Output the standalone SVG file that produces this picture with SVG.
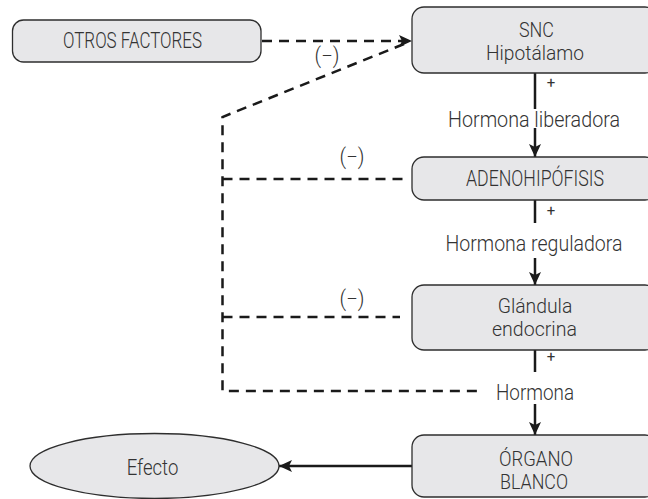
<svg xmlns="http://www.w3.org/2000/svg" width="648" height="499" viewBox="0 0 648 499">
  <defs>
    <style>
      .box { fill: #e7e7e9; stroke: #2e2e2e; stroke-width: 1.3; }
      .lbl { font-family: Roboto, "Liberation Sans", Arial, sans-serif; font-weight: 300; font-size: 21.5px; fill: #333333; text-anchor: middle; }
      .two { font-size: 19.5px; }
      .sign { font-family: Roboto, "Liberation Sans", Arial, sans-serif; font-weight: 400; font-size: 15px; fill: #333333; text-anchor: middle; }
      .neg { font-family: Roboto, "Liberation Sans", Arial, sans-serif; font-weight: 300; font-size: 21.5px; fill: #333333; text-anchor: middle; }
      .solid { fill: none; stroke: #1a1a1a; stroke-width: 2.5; }
      .dash { fill: none; stroke: #1a1a1a; stroke-width: 2.5; stroke-dasharray: 10 7; }
    </style>
    <marker id="head" markerUnits="userSpaceOnUse" markerWidth="14" markerHeight="12" refX="13" refY="6" orient="auto">
      <path d="M0,0 L13,6 L0,12 L3,6 Z" fill="#1a1a1a"/>
    </marker>
  </defs>
  <rect width="648" height="499" fill="#ffffff"/>

  <!-- connectors -->
  <g id="connectors">
    <!-- main cascade -->
    <line class="solid" x1="535" y1="73" x2="535" y2="109"/>
    <line class="solid" x1="535" y1="128" x2="535" y2="157" marker-end="url(#head)"/>
    <line class="solid" x1="535" y1="200" x2="535" y2="223"/>
    <line class="solid" x1="535" y1="258" x2="535" y2="285" marker-end="url(#head)"/>
    <line class="solid" x1="535" y1="350" x2="535" y2="372"/>
    <line class="solid" x1="535" y1="404" x2="535" y2="435" marker-end="url(#head)"/>
    <line class="solid" x1="412" y1="466" x2="279" y2="466" marker-end="url(#head)"/>
    <!-- other factors -->
    <line class="dash" x1="262" y1="41" x2="412" y2="41" marker-end="url(#head)"/>
    <!-- negative feedback loop -->
    <path class="dash" d="M404,44 L222.5,117 L222.5,391 L483,391"/>
    <line class="dash" x1="222.5" y1="179" x2="405" y2="179"/>
    <line class="dash" x1="222.5" y1="317" x2="400" y2="317"/>
    <text class="neg" x="327" y="63" textLength="25" lengthAdjust="spacingAndGlyphs">(−)</text>
    <text class="neg" x="352" y="164" textLength="25" lengthAdjust="spacingAndGlyphs">(−)</text>
    <text class="neg" x="352" y="306" textLength="25" lengthAdjust="spacingAndGlyphs">(−)</text>
    <text class="sign" x="551" y="88">+</text>
    <text class="sign" x="551" y="215.5">+</text>
    <text class="sign" x="551" y="362">+</text>
    <text class="lbl" x="534" y="127" textLength="172" lengthAdjust="spacingAndGlyphs">Hormona liberadora</text>
    <text class="lbl" x="534" y="251" textLength="177" lengthAdjust="spacingAndGlyphs">Hormona reguladora</text>
    <text class="lbl" x="535" y="400" textLength="78" lengthAdjust="spacingAndGlyphs">Hormona</text>
  </g>

  <g id="otros-factores">
    <rect class="box" x="12.5" y="20" width="248.5" height="42" rx="11"/>
    <text class="lbl" x="132.5" y="47.5" textLength="139" lengthAdjust="spacingAndGlyphs">OTROS FACTORES</text>
  </g>

  <g id="snc-hipotalamo">
    <rect class="box" x="412" y="7" width="245" height="66" rx="12"/>
    <text class="lbl two" x="536.5" y="37" textLength="35" lengthAdjust="spacingAndGlyphs">SNC</text>
    <text class="lbl two" x="535" y="60" textLength="98" lengthAdjust="spacingAndGlyphs">Hipotálamo</text>
  </g>

  <g id="adenohipofisis">
    <rect class="box" x="412" y="157" width="245" height="43" rx="12"/>
    <text class="lbl" x="535" y="185.7" textLength="138" lengthAdjust="spacingAndGlyphs">ADENOHIPÓFISIS</text>
  </g>

  <g id="glandula-endocrina">
    <rect class="box" x="412" y="285" width="245" height="65" rx="12"/>
    <text class="lbl two" x="535" y="313" textLength="74.7" lengthAdjust="spacingAndGlyphs">Glándula</text>
    <text class="lbl two" x="534.5" y="336" textLength="85" lengthAdjust="spacingAndGlyphs">endocrina</text>
  </g>

  <g id="organo-blanco">
    <rect class="box" x="412" y="435" width="245" height="62" rx="12"/>
    <text class="lbl two" x="536" y="465.5" textLength="74" lengthAdjust="spacingAndGlyphs">ÓRGANO</text>
    <text class="lbl two" x="534" y="488.5" textLength="68" lengthAdjust="spacingAndGlyphs">BLANCO</text>
  </g>

  <g id="efecto">
    <ellipse class="box" cx="154.5" cy="466" rx="124.5" ry="32.5"/>
    <text class="lbl" x="152.5" y="474.5" style="font-size:22.5px" textLength="51.6" lengthAdjust="spacingAndGlyphs">Efecto</text>
  </g>
</svg>
